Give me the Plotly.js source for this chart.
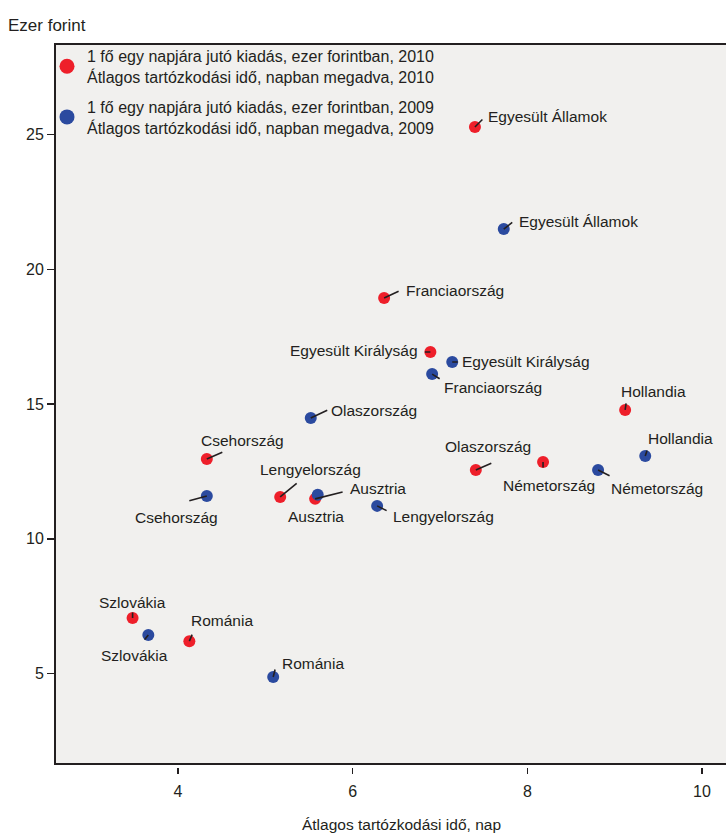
<!DOCTYPE html>
<html>
<head>
<meta charset="utf-8">
<script src="https://cdn.plot.ly/plotly-3.0.1.min.js"></script>
<style>
  html, body { margin: 0; padding: 0; background: #ffffff; overflow: hidden; }
  #chart { width: 748px; height: 833px; }
</style>
</head>
<body>
<div id="chart"></div>
<script>
// ---- data ----
const countries = ["Egyesült Államok", "Franciaország", "Egyesült Királyság", "Hollandia", "Csehország",
  "Olaszország", "Németország", "Lengyelország", "Ausztria", "Szlovákia", "Románia"];
const stay2010 = [7.40, 6.36, 6.89, 9.12, 4.33, 7.41, 8.18, 5.17, 5.57, 3.48, 4.13];
const spend2010 = [25.28, 18.93, 16.93, 14.78, 12.96, 12.55, 12.85, 11.55, 11.48, 7.06, 6.20];
const stay2009 = [7.73, 6.91, 7.14, 9.35, 4.33, 5.52, 8.81, 6.28, 5.60, 3.66, 5.09];
const spend2009 = [21.49, 16.11, 16.56, 13.07, 11.59, 14.48, 12.55, 11.22, 11.63, 6.43, 4.87];
const name2010 = "1 fő egy napjára jutó kiadás, ezer forintban, 2010<br>Átlagos tartózkodási idő, napban megadva, 2010";
const name2009 = "1 fő egy napjára jutó kiadás, ezer forintban, 2009<br>Átlagos tartózkodási idő, napban megadva, 2009";
const xTicks = [4, 6, 8, 10];
const yTicks = [5, 10, 15, 20, 25];

// ---- label placement (screen px offsets from the point: leader end dx,dy ; text dx,dy ; xanchor) ----
const place2010 = [
  [8, -8, 12, -10, "left"],
  [15, -7, 21, -8, "left"],
  [-6, 0, -11, -1, "right"],
  [1, -7, 28, -18, "center"],
  [16, -7, 36, -18, "center"],
  [16, -7, 12, -24, "center"],
  [0, 6, 6, 24, "center"],
  [17, -14, 30, -27, "center"],
  [28, -7, 34, -10, "left"],
  [0, -6, 0, -15, "center"],
  [3, -7, 33, -21, "center"]
];
const place2009 = [
  [9, -7, 14, -8, "left"],
  [8, 5, 11, 13, "left"],
  [6, 0, 9, 0, "left"],
  [2, -6, 35, -18, "center"],
  [-18, 5, -30, 22, "center"],
  [17, -8, 19, -8, "left"],
  [12, 6, 12, 18, "left"],
  [10, 5, 15, 11, "left"],
  [null, null, -2, 22, "center"],
  [-4, 5, -14, 21, "center"],
  [2, -8, 8, -14, "left"]
];

const RED = "#ee1f2a", BLUE = "#2b4a9f", INK = "#231f20";
const FONT = "'Liberation Sans', Arial, sans-serif";

const traces = [
  { x: stay2010, y: spend2010, type: "scatter", mode: "markers", showlegend: false,
    marker: { color: RED, size: 12 }, hoverinfo: "skip" },
  { x: stay2009, y: spend2009, type: "scatter", mode: "markers", showlegend: false,
    marker: { color: BLUE, size: 12 }, hoverinfo: "skip" },
  { x: [null], y: [null], type: "scatter", mode: "markers", name: name2010, legendgroup: "g2010",
    marker: { color: RED, size: 15 } },
  { x: [null], y: [null], type: "scatter", mode: "markers", name: name2009, legendgroup: "g2009",
    marker: { color: BLUE, size: 15 } }
];

const annotations = [];
function addLabels(xs, ys, place) {
  countries.forEach((c, i) => {
    const p = place[i];
    if (p[0] !== null) {
      annotations.push({ x: xs[i], y: ys[i], xref: "x", yref: "y", text: "", showarrow: true,
        arrowhead: 0, arrowwidth: 1.6, arrowcolor: INK, ax: p[0], ay: p[1], standoff: 0, borderpad: 0 });
    }
    annotations.push({ x: xs[i], y: ys[i], xref: "x", yref: "y", text: c, showarrow: false,
      xanchor: p[4], yanchor: "middle", xshift: p[2], yshift: -p[3], borderpad: 0,
      font: { family: FONT, size: 15.5, color: INK } });
  });
}
addLabels(stay2010, spend2010, place2010);
addLabels(stay2009, spend2009, place2009);

const layout = {
  width: 748, height: 833,
  margin: { l: 55, r: 0, t: 44, b: 66 },
  paper_bgcolor: "#ffffff", plot_bgcolor: "rgba(0,0,0,0)",
  font: { family: FONT, size: 16, color: INK },
  title: { text: "Ezer forint", xref: "container", yref: "container", x: 8 / 748, xanchor: "left",
    y: 1 - 25 / 833, yanchor: "middle", font: { family: FONT, size: 17, color: INK } },
  xaxis: { range: [2.5916, 10.5267], tickvals: xTicks, ticktext: xTicks.map(String),
    showgrid: false, zeroline: false, showline: false, ticks: "outside", ticklen: 6, tickwidth: 1.5,
    tickcolor: INK, ticklabelstandoff: 4, tickfont: { family: FONT, size: 16, color: INK },
    title: { text: "Átlagos tartózkodási idő, nap", standoff: 21, font: { family: FONT, size: 15.5, color: INK } },
    automargin: false, fixedrange: true },
  yaxis: { range: [1.531, 28.358], tickvals: yTicks, ticktext: yTicks.map(String),
    showgrid: false, zeroline: false, showline: false, ticks: "outside", ticklen: 7, tickwidth: 1.5,
    tickcolor: INK, tickfont: { family: FONT, size: 16, color: INK }, automargin: false, fixedrange: true },
  shapes: [
    { type: "rect", xref: "paper", yref: "paper", x0: 0, x1: 1.1, y0: 3 / 723, y1: 1,
      fillcolor: "#f1f0ee", line: { color: INK, width: 2 }, layer: "below" }
  ],
  legend: { x: -8 / 693, xanchor: "left", y: 1 + 5 / 723, yanchor: "top", bgcolor: "rgba(0,0,0,0)",
    borderwidth: 0, font: { family: FONT, size: 16, color: INK }, traceorder: "grouped", tracegroupgap: 6 },
  annotations: annotations,
  showlegend: true
};

Plotly.newPlot("chart", traces, layout, { displayModeBar: false, staticPlot: true });
</script>
</body>
</html>
